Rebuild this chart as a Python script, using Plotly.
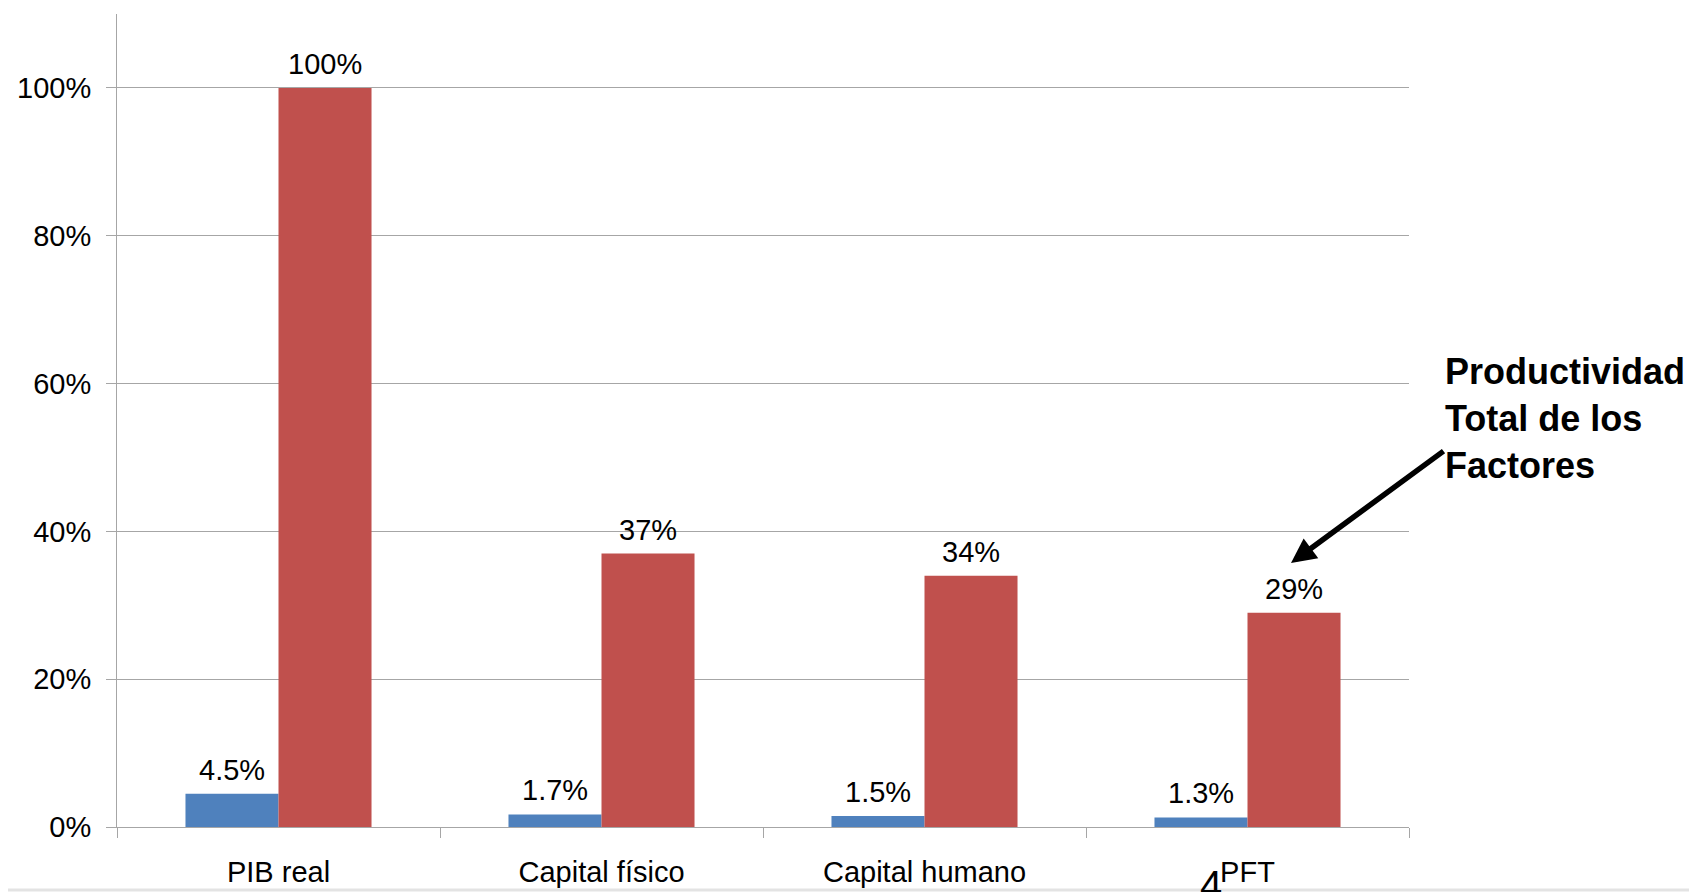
import plotly.graph_objects as go

categories = ["PIB real", "Capital físico", "Capital humano", "PFT"]
growth = [0.045, 0.017, 0.015, 0.013]
growth_labels = ["4.5%", "1.7%", "1.5%", "1.3%"]
share = [1.00, 0.37, 0.34, 0.29]
share_labels = ["100%", "37%", "34%", "29%"]
y_ticks = [0, 0.2, 0.4, 0.6, 0.8, 1.0]
y_tick_labels = ["0%", "20%", "40%", "60%", "80%", "100%"]

BLUE = "#4F81BD"
RED = "#C0504D"
GRID = "#A6A6A6"
FONT = "Liberation Sans, Arial, sans-serif"

W, H = 1697, 892
OFF = 8  # page body margin
L, R, T, B = 109, 296, 6, 73
PW, PH = W - L - R, H - T - B

def px_to_paper_x(px):
    return (px - OFF - L) / PW

def px_to_paper_y(py):
    return (H - B - (py - OFF)) / PH

fig = go.Figure()
fig.add_trace(go.Bar(x=categories, y=growth, marker_color=BLUE, marker_line_width=0,
                     name="growth", hoverinfo="skip"))
fig.add_trace(go.Bar(x=categories, y=share, marker_color=RED, marker_line_width=0,
                     name="share", hoverinfo="skip"))

annotations = []
bar_px = PW / len(categories) * (1 - 0.424) / 2
for cat, v, t in zip(categories, growth, growth_labels):
    annotations.append(dict(x=cat, y=v, xref="x", yref="y", text=t, showarrow=False,
                            xshift=-bar_px / 2, yshift=6, yanchor="bottom",
                            font=dict(size=29, color="#000000", family=FONT)))
for cat, v, t in zip(categories, share, share_labels):
    annotations.append(dict(x=cat, y=v, xref="x", yref="y", text=t, showarrow=False,
                            xshift=bar_px / 2, yshift=6, yanchor="bottom",
                            font=dict(size=29, color="#000000", family=FONT)))

# callout text
annotations.append(dict(x=px_to_paper_x(1443), y=px_to_paper_y(418), xref="paper", yref="paper",
                        text="<b>Productividad<br>Total de los<br>Factores</b>", align="left",
                        showarrow=False, xanchor="left", yanchor="middle",
                        font=dict(size=36, color="#000000", family=FONT)))
# arrow
annotations.append(dict(x=px_to_paper_x(1291), y=px_to_paper_y(563), xref="paper", yref="paper",
                        text="", showarrow=True, ax=154, ay=-113, axref="pixel", ayref="pixel",
                        arrowhead=2, arrowsize=0.9, arrowwidth=5.5, arrowcolor="#000000",
                        standoff=0, startstandoff=0))
# slide number
annotations.append(dict(x=px_to_paper_x(1211), y=px_to_paper_y(885), xref="paper", yref="paper",
                        text="4", showarrow=False, xanchor="center", yanchor="middle",
                        font=dict(size=40, color="#000000", family=FONT)))

fig.update_layout(
    width=W, height=H,
    margin=dict(l=L, r=R, t=T, b=B, pad=0),
    paper_bgcolor="white", plot_bgcolor="white",
    barmode="group", bargap=0.424, bargroupgap=0,
    showlegend=False,
    font=dict(family=FONT, size=29, color="#000000"),
    annotations=annotations,
    shapes=[dict(type="line", xref="paper", yref="paper", layer="below",
                 x0=px_to_paper_x(0), x1=px_to_paper_x(W + 20),
                 y0=px_to_paper_y(890), y1=px_to_paper_y(890),
                 line=dict(color="#E3E3E3", width=3))],
)
fig.update_xaxes(
    type="category", showline=True, linecolor=GRID, linewidth=1,
    ticks="outside", ticklen=10, tickcolor=GRID, tickwidth=1, tickson="boundaries",
    showgrid=False, ticklabelstandoff=19,
    tickfont=dict(size=29, family=FONT, color="#000000"),
)
fig.update_yaxes(
    range=[0, 1.1], tickvals=y_ticks, ticktext=y_tick_labels,
    showline=True, linecolor=GRID, linewidth=1,
    ticks="outside", ticklen=10, tickcolor=GRID, tickwidth=1,
    showgrid=True, gridcolor=GRID, gridwidth=1, zeroline=False,
    ticklabelstandoff=9,
    tickfont=dict(size=29, family=FONT, color="#000000"),
)

fig.write_html("out.html")
